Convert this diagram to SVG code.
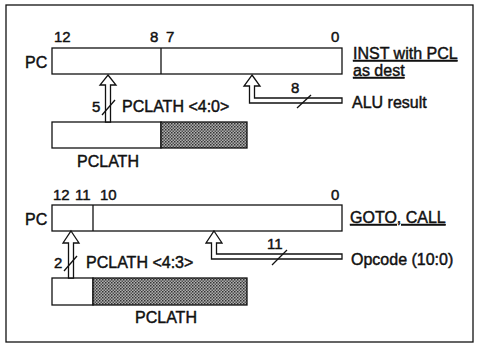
<svg xmlns="http://www.w3.org/2000/svg" width="480" height="346" viewBox="0 0 480 346">
<defs>
<pattern id="dots" width="3" height="3" patternUnits="userSpaceOnUse">
<rect width="3" height="3" fill="#b0b0b0"/>
<rect x="0" y="0" width="1.5" height="1.5" fill="#333"/>
<rect x="1.5" y="1.5" width="1.5" height="1.5" fill="#505050"/>
</pattern>
</defs>
<style>
.reg{fill:#fff;stroke:#111;stroke-width:1.3}
.shade{fill:url(#dots);stroke:#111;stroke-width:1.3}
.ln{stroke:#111;stroke-width:1.3;fill:none}
.pipe{fill:#fff;stroke:#111;stroke-width:1.3;stroke-linejoin:miter}
text{font-family:"Liberation Sans",Arial,sans-serif;font-size:16px;fill:#111;stroke:#111;stroke-width:0.45}
.num{font-size:15px}
.u{text-decoration:underline}
</style>
<rect x="6" y="5" width="467" height="337" fill="none" stroke="#111" stroke-width="1.3"/>

<g id="top-pc">
<rect class="reg" x="52" y="48" width="290" height="26"/>
<line class="ln" x1="161" y1="48" x2="161" y2="74"/>
<text x="25" y="68">PC</text>
<text class="num" x="54" y="42">12</text>
<text class="num" x="150" y="42">8</text>
<text class="num" x="166" y="42">7</text>
<text class="num" x="331" y="42">0</text>
</g>
<g id="top-title">
<text class="u" x="353" y="59">INST with PCL</text>
<text class="u" x="353" y="76">as dest</text>
</g>
<g id="top-pclath">
<rect class="reg" x="52" y="122" width="109" height="26"/>
<rect class="shade" x="161" y="122" width="86" height="26"/>
<text x="77" y="167">PCLATH</text>
</g>
<g id="alu-label">
<text x="352" y="108">ALU result</text>
</g>

<g id="bottom-pc">
<rect class="reg" x="52" y="205" width="290" height="26"/>
<line class="ln" x1="93" y1="205" x2="93" y2="231"/>
<text x="25" y="225">PC</text>
<text class="num" x="53" y="200">12</text>
<text class="num" x="75" y="200">11</text>
<text class="num" x="100" y="200">10</text>
<text class="num" x="331" y="200">0</text>
</g>
<g id="bottom-title">
<text class="u" x="350" y="223">GOTO, CALL</text>
</g>
<g id="bottom-pclath">
<rect class="reg" x="52" y="278" width="41" height="27"/>
<rect class="shade" x="93" y="278" width="154" height="27"/>
<text x="135" y="323">PCLATH</text>
</g>
<g id="opcode-label">
<text x="351" y="265">Opcode (10:0)</text>
</g>

<g id="connectors">
<polygon class="pipe" points="108,75 116,85 110.5,85 110.5,122 105.5,122 105.5,85 100,85"/>
<line class="ln" x1="102" y1="115" x2="115" y2="100"/>
<text class="num" x="92" y="112">5</text>
<text x="122" y="112">PCLATH &lt;4:0&gt;</text>

<polygon class="pipe" points="252,75 260,86 254.5,86 254.5,98 342,98 342,103 249.5,103 249.5,86 244,86"/>
<line class="ln" x1="297" y1="108" x2="311" y2="95"/>
<text class="num" x="291" y="93">8</text>

<polygon class="pipe" points="71,231 79,243 73.5,243 73.5,278 68.5,278 68.5,243 63,243"/>
<line class="ln" x1="64" y1="271" x2="77" y2="256"/>
<text class="num" x="54" y="268">2</text>
<text x="86" y="268">PCLATH &lt;4:3&gt;</text>

<polygon class="pipe" points="214,231 222,243 216.5,243 216.5,254 342,254 342,259 211.5,259 211.5,243 206,243"/>
<line class="ln" x1="272" y1="265" x2="287" y2="250"/>
<text class="num" x="267" y="249">11</text>
</g>
</svg>
